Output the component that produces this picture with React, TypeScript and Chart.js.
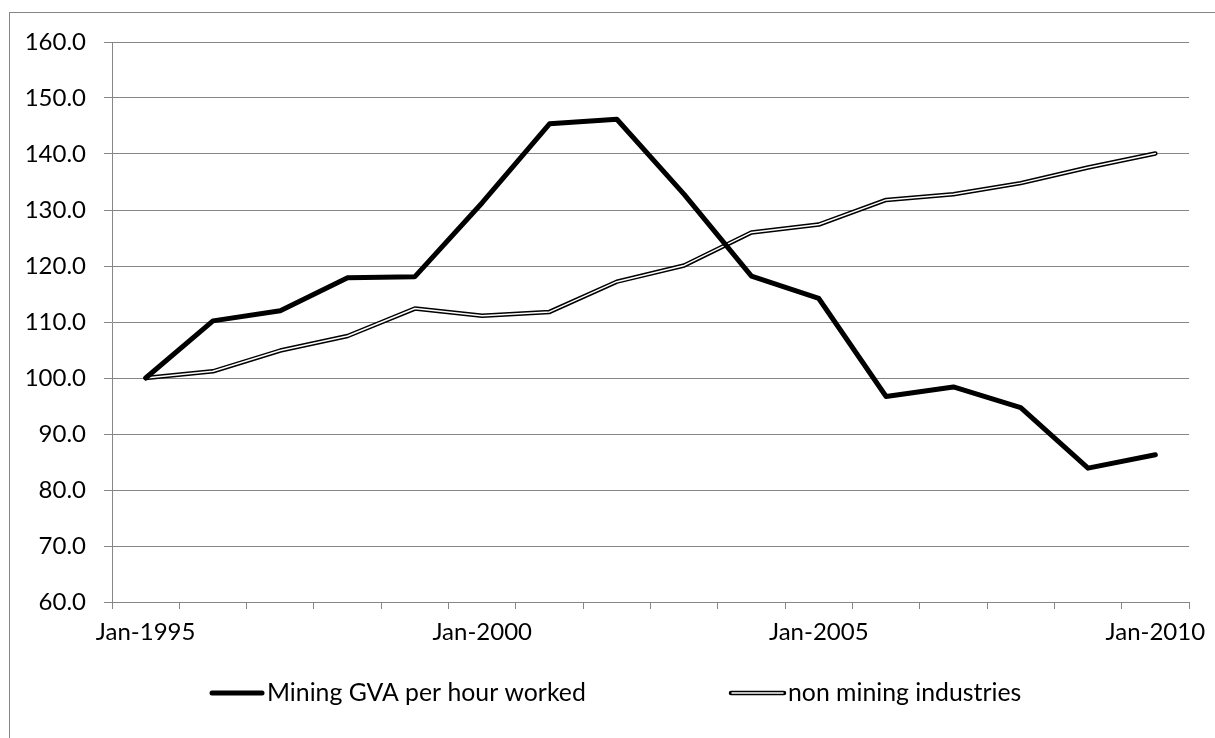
import React, { useEffect, useRef } from 'react';
import { Chart, registerables } from 'chart.js';

Chart.register(...registerables);

const years = [
  'Jan-1995', 'Jan-1996', 'Jan-1997', 'Jan-1998', 'Jan-1999', 'Jan-2000',
  'Jan-2001', 'Jan-2002', 'Jan-2003', 'Jan-2004', 'Jan-2005', 'Jan-2006',
  'Jan-2007', 'Jan-2008', 'Jan-2009', 'Jan-2010',
];
const mining = [100, 110.2, 112.0, 117.9, 118.1, 131.3, 145.4, 146.2, 132.8, 118.2, 114.2, 96.7, 98.4, 94.7, 83.9, 86.3];
const nonMining = [100, 101.2, 104.9, 107.5, 112.4, 111.1, 111.8, 117.2, 120.1, 126.0, 127.4, 131.8, 132.8, 134.8, 137.6, 140.1];
const seriesNames = ['Mining GVA per hour worked', 'non mining industries'];
const yMin = 60;
const yMax = 160;
const yStep = 10;

const FONT = 'Lato, "Open Sans", sans-serif';
const TICK_SIZE = 24;
const LEGEND_SIZE = 24.8;
const GRID = '#868686';

export default function App() {
  const ref = useRef<HTMLCanvasElement>(null);

  useEffect(() => {
    if (!ref.current) return;

    const borderPlugin = {
      id: 'outerBorder',
      beforeDraw(chart: any) {
        const ctx = chart.ctx;
        ctx.save();
        ctx.fillStyle = '#ffffff';
        ctx.fillRect(0, 0, chart.width, chart.height);
        ctx.strokeStyle = GRID;
        ctx.lineWidth = 1;
        ctx.strokeRect(9.5, 12.5, chart.width + 40, chart.height + 40);
        ctx.restore();
      },
    };

    const legendPlugin = {
      id: 'customLegend',
      afterDraw(chart: any) {
        const ctx = chart.ctx;
        const y = 693;
        ctx.save();
        ctx.lineCap = 'round';
        ctx.strokeStyle = '#000';
        ctx.lineWidth = 5;
        ctx.beginPath();
        ctx.moveTo(212, y);
        ctx.lineTo(262, y);
        ctx.stroke();
        ctx.lineWidth = 4.5;
        ctx.beginPath();
        ctx.moveTo(731, y);
        ctx.lineTo(784, y);
        ctx.stroke();
        ctx.strokeStyle = '#fff';
        ctx.lineWidth = 1.5;
        ctx.beginPath();
        ctx.moveTo(732, y);
        ctx.lineTo(783, y);
        ctx.stroke();
        ctx.fillStyle = '#000';
        ctx.font = `${LEGEND_SIZE}px ${FONT}`;
        ctx.textBaseline = 'middle';
        ctx.textAlign = 'left';
        ctx.fillText(seriesNames[0], 267, y);
        ctx.fillText(seriesNames[1], 788, y);
        ctx.restore();
      },
    };

    const chart = new Chart(ref.current, {
      type: 'line',
      data: {
        labels: years,
        datasets: [
          {
            label: seriesNames[0],
            data: mining,
            borderColor: '#000',
            borderWidth: 5,
            pointRadius: 0,
            borderJoinStyle: 'round',
            borderCapStyle: 'round',
            tension: 0,
          },
          {
            label: seriesNames[1] + ' inner',
            data: nonMining,
            borderColor: '#fff',
            borderWidth: 1.5,
            pointRadius: 0,
            borderJoinStyle: 'round',
            borderCapStyle: 'round',
            tension: 0,
          },
          {
            label: seriesNames[1],
            data: nonMining,
            borderColor: '#000',
            borderWidth: 4.5,
            pointRadius: 0,
            borderJoinStyle: 'round',
            borderCapStyle: 'round',
            tension: 0,
          },
        ],
      },
      options: {
        animation: false,
        responsive: true,
        maintainAspectRatio: false,
        layout: { padding: { left: 0, right: 26, top: 42, bottom: 0 } },
        plugins: {
          legend: { display: false },
          tooltip: { enabled: false },
        },
        scales: {
          x: {
            type: 'category',
            offset: true,
            grid: {
              offset: true,
              drawOnChartArea: false,
              drawTicks: true,
              tickLength: 7,
              color: GRID,
            },
            border: { color: GRID, width: 1 },
            ticks: {
              autoSkip: false,
              maxRotation: 0,
              minRotation: 0,
              padding: 9,
              color: '#000',
              font: { family: FONT, size: TICK_SIZE },
              callback: (_v: any, i: number) => (i % 5 === 0 ? years[i] : ''),
            },
            afterFit: (scale: any) => {
              scale.height = 136;
            },
          },
          y: {
            min: yMin,
            max: yMax,
            grid: {
              color: GRID,
              drawTicks: true,
              tickLength: 8,
            },
            border: { color: GRID, width: 1 },
            ticks: {
              stepSize: yStep,
              padding: 18,
              color: '#000',
              font: { family: FONT, size: TICK_SIZE },
              callback: (v: any) => Number(v).toFixed(1),
            },
            afterFit: (scale: any) => {
              scale.width = 112;
            },
          },
        },
      },
      plugins: [borderPlugin, legendPlugin],
    } as any);

    return () => chart.destroy();
  }, []);

  return (
    <div style={{ position: 'fixed', left: 0, top: 0, width: 1215, height: 738, background: '#fff' }}>
      <canvas ref={ref} />
    </div>
  );
}
